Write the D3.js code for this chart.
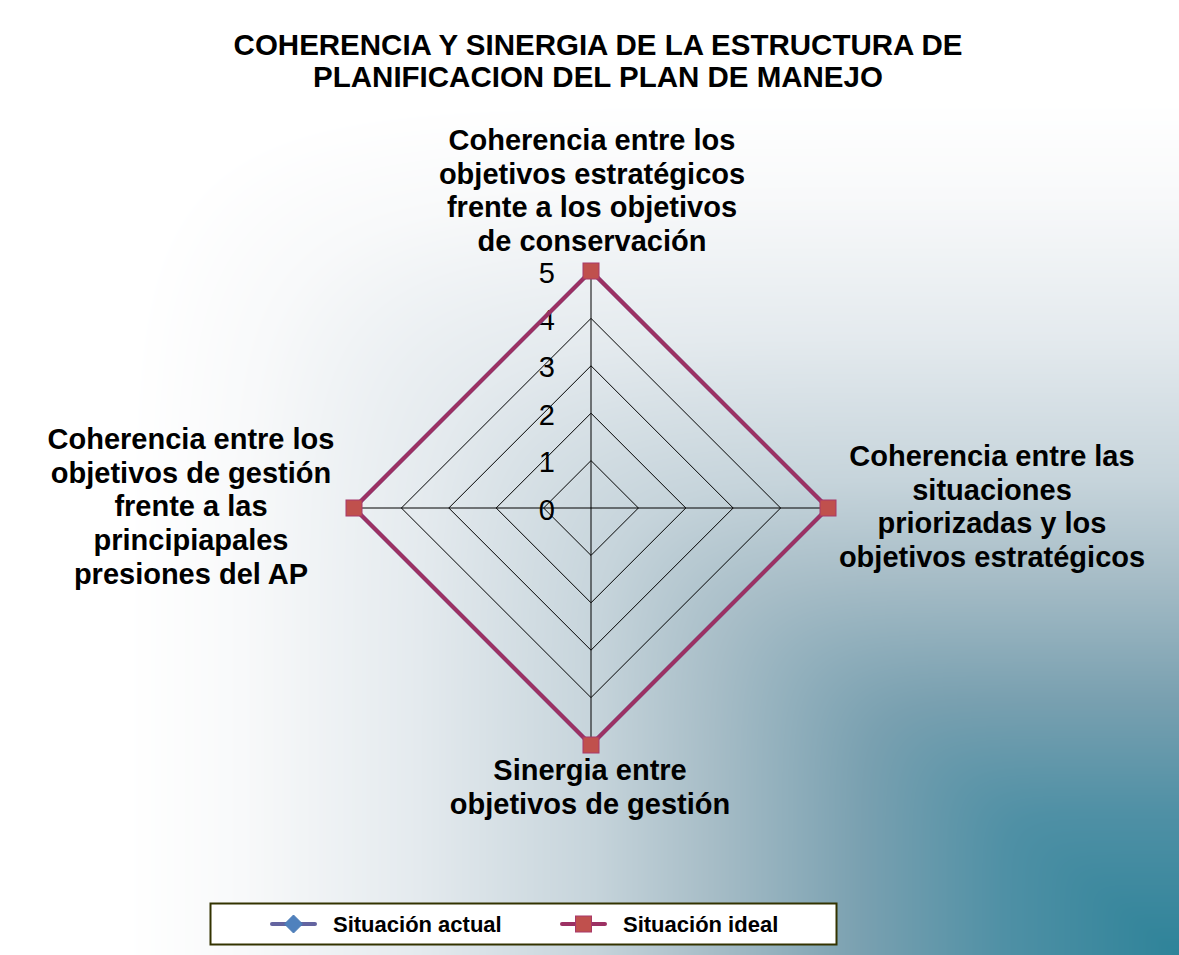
<!DOCTYPE html>
<html><head><meta charset="utf-8">
<script src="https://cdn.jsdelivr.net/npm/d3@7"></script>
<style>html,body{margin:0;padding:0;background:#fff;}svg{display:block;}</style>
</head><body>
<script>
const categories = [
  "Coherencia entre los objetivos estratégicos frente a los objetivos de conservación",
  "Coherencia entre las situaciones priorizadas y los objetivos estratégicos",
  "Sinergia entre objetivos de gestión",
  "Coherencia entre los objetivos de gestión frente a las principiapales presiones del AP"
];
const categoryLines = [
  ["Coherencia entre los","objetivos estratégicos","frente a los objetivos","de conservación"],
  ["Coherencia entre las","situaciones","priorizadas y los","objetivos estratégicos"],
  ["Sinergia entre","objetivos de gestión"],
  ["Coherencia entre los","objetivos de gestión","frente a las","principiapales","presiones del AP"]
];
const seriesNames = ["Situación actual","Situación ideal"];
const actualValues = [5,5,5,5];
const idealValues = [5,5,5,5];
const tickValues = [0,1,2,3,4,5];
const titleLines = ["COHERENCIA Y SINERGIA DE LA ESTRUCTURA DE","PLANIFICACION DEL PLAN DE MANEJO"];

const W=1179,H=955;
const x0=8,y0=5;
// background: "from corner" gradient rendered on a canvas
const stops=[[0,"#2e8399"],[0.15,"#4f90a5"],[0.27,"#79a0b0"],[0.4,"#a7bdc7"],[0.5,"#c6d4db"],[0.65,"#e4eaee"],[0.8,"#f8f9fa"],[0.9,"#ffffff"],[1,"#ffffff"]];
const colorAt=d3.scaleLinear().domain(stops.map(s=>s[0])).range(stops.map(s=>s[1])).interpolate(d3.interpolateRgb).clamp(true);
const cv=document.createElement("canvas");cv.width=W;cv.height=H;
const ctx=cv.getContext("2d");
const img=ctx.createImageData(W,H);
const lut=d3.range(1001).map(i=>d3.rgb(colorAt(i/1000)));
const p=8;
for(let y=0;y<H;y++){for(let x=0;x<W;x++){
  const k=(y*W+x)*4;
  if(x<x0||y<y0){img.data[k]=255;img.data[k+1]=255;img.data[k+2]=255;img.data[k+3]=255;continue;}
  const a=(W-x)/(W-x0),b=(H-y)/(H-y0);
  const t=Math.pow(Math.pow(a,p)+Math.pow(b,p),1/p);
  const c=lut[Math.min(1000,Math.round(t*1000))];
  img.data[k]=c.r;img.data[k+1]=c.g;img.data[k+2]=c.b;img.data[k+3]=255;
}}
ctx.putImageData(img,0,0);

const svg=d3.select("body").append("svg").attr("width",W).attr("height",H);
const defs=svg.append("defs");
const lg=defs.append("linearGradient").attr("id","topline").attr("x1",0).attr("x2",1);
lg.append("stop").attr("offset",0).attr("stop-color","#ffffff");
lg.append("stop").attr("offset",0.5).attr("stop-color","#a9bcc6");
lg.append("stop").attr("offset",1).attr("stop-color","#2e8399");
const lg2=defs.append("linearGradient").attr("id","leftline").attr("x1",0).attr("x2",0).attr("y1",0).attr("y2",1);
lg2.append("stop").attr("offset",0).attr("stop-color","#ffffff");
lg2.append("stop").attr("offset",1).attr("stop-color","#2e8399");

svg.append("image").attr("x",0).attr("y",0).attr("width",W).attr("height",H).attr("href",cv.toDataURL());
svg.append("line").attr("x1",x0).attr("x2",W).attr("y1",5.5).attr("y2",5.5).attr("stroke","url(#topline)").attr("stroke-width",1.5);
svg.append("line").attr("x1",8.5).attr("x2",8.5).attr("y1",5).attr("y2",H).attr("stroke","url(#leftline)").attr("stroke-width",1.5);

const cx=591,cy=508,R=237;
const r=d3.scaleLinear().domain([0,5]).range([0,R]);
const ang=d3.scalePoint().domain(d3.range(categories.length)).range([0,2*Math.PI*(categories.length-1)/categories.length]);
const pt=(i,v)=>[cx+r(v)*Math.sin(ang(i)),cy-r(v)*Math.cos(ang(i))];

const g=svg.append("g");
tickValues.filter(t=>t>0).forEach(t=>{
  g.append("polygon").attr("points",categories.map((c,i)=>pt(i,t).join(",")).join(" "))
   .attr("fill","none").attr("stroke","#000").attr("stroke-width",1);
});
categories.forEach((c,i)=>{
  const q=pt(i,5);
  g.append("line").attr("x1",cx).attr("y1",cy).attr("x2",q[0]).attr("y2",q[1]).attr("stroke","#000").attr("stroke-width",1);
});
tickValues.forEach(t=>{
  g.append("text").attr("x",555).attr("y",cy-r(t)).attr("dy","0.4em").attr("text-anchor","end")
   .attr("font-family","Liberation Sans, Arial, sans-serif").attr("font-size",29).attr("fill","#000").text(t);
});

const line=d3.line().curve(d3.curveLinearClosed);
g.append("path").attr("d",line(actualValues.map((v,i)=>pt(i,v)))).attr("fill","none").attr("stroke","#5f5fa0").attr("stroke-width",4);
g.append("path").attr("d",line(idealValues.map((v,i)=>pt(i,v)))).attr("fill","none").attr("stroke","#9c3163").attr("stroke-width",4).attr("stroke-linejoin","miter");
idealValues.forEach((v,i)=>{
  const q=pt(i,v);
  g.append("rect").attr("x",q[0]-8).attr("y",q[1]-8).attr("width",16).attr("height",16)
   .attr("fill","#c0504d").attr("stroke","#a8386a").attr("stroke-width",1);
});

const labelPos=[{x:592,y:150},{x:992,y:466},{x:590,y:780},{x:191,y:449}];
categoryLines.forEach((lines,i)=>{
  const t=svg.append("text").attr("text-anchor","middle")
    .attr("font-family","Liberation Sans, Arial, sans-serif").attr("font-weight","bold").attr("font-size",29).attr("fill","#000");
  lines.forEach((l,j)=>t.append("tspan").attr("x",labelPos[i].x).attr("y",labelPos[i].y+j*33.7).text(l));
});

titleLines.forEach((l,j)=>{
  svg.append("text").attr("x",598).attr("y",55+j*32).attr("text-anchor","middle")
   .attr("font-family","Liberation Sans, Arial, sans-serif").attr("font-weight","bold").attr("font-size",29.5).attr("fill","#000").text(l);
});

const leg=svg.append("g");
leg.append("rect").attr("x",210.5).attr("y",903.5).attr("width",626).attr("height",41).attr("fill","#fff").attr("stroke","#333300").attr("stroke-width",2);
const legItems=[{name:seriesNames[0],x:272,color:"#6464a0",mfill:"#4f81bd",shape:"diamond"},{name:seriesNames[1],x:562,color:"#9c3163",mfill:"#c0504d",shape:"square"}];
legItems.forEach(it=>{
  leg.append("line").attr("x1",it.x).attr("x2",it.x+43).attr("y1",924).attr("y2",924).attr("stroke",it.color).attr("stroke-width",4).attr("stroke-linecap","round");
  const mx=it.x+21.5;
  if(it.shape==="diamond"){
    leg.append("path").attr("d",`M${mx},915 L${mx+9},924 L${mx},933 L${mx-9},924 Z`).attr("fill",it.mfill).attr("stroke","#4a7ab5");
  } else {
    leg.append("rect").attr("x",mx-8).attr("y",916).attr("width",16).attr("height",16).attr("fill",it.mfill).attr("stroke","#a8386a");
  }
  leg.append("text").attr("x",it.x+61).attr("y",932).attr("font-family","Liberation Sans, Arial, sans-serif")
   .attr("font-weight","bold").attr("font-size",22).attr("fill","#000").text(it.name);
});
</script>
</body></html>
